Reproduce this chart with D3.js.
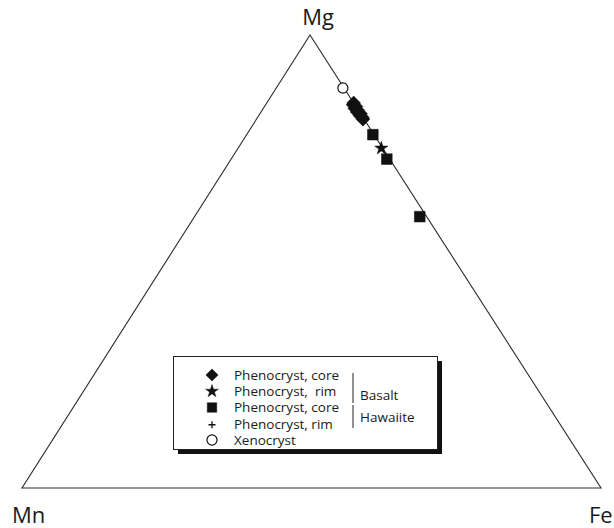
<!DOCTYPE html>
<html>
<head>
<meta charset="utf-8">
<script src="https://cdn.jsdelivr.net/npm/d3@7"></script>
<style>
  html, body { margin: 0; padding: 0; background: #fff; }
  svg { display: block; }
  text { font-family: "Open Sans", "Noto Sans", sans-serif; fill: #1a1a1a; }
</style>
</head>
<body>
<div id="chart"></div>
<script>
// Ternary vertex labels
const vertexLabels = ["Mg", "Mn", "Fe"];

// Olivine compositions, mol% Mg and Mn (Fe = remainder)
const basaltCoreMg = [85.0, 84.6, 84.2, 83.8, 83.4, 83.0, 82.6, 82.2, 81.8, 81.4];
const basaltCoreMn = [0.0, 0.3, 0.0, 0.4, 0.1, 0.4, 0.0, 0.3, 0.1, 0.2];
const basaltRimMg = [75.0];
const basaltRimMn = [0.25];
const hawaiiteCoreMg = [78.0, 72.6, 59.9];
const hawaiiteCoreMn = [0.2, 0.5, 1.2];
const hawaiiteRimMg = [83.6];
const hawaiiteRimMn = [0.3];
const xenocrystMg = [88.3];
const xenocrystMn = [0.2];

// Legend entries
const legendLabels = ["Phenocryst, core", "Phenocryst,  rim", "Phenocryst, core", "Phenocryst, rim", "Xenocryst"];
const legendGroups = ["Basalt", "Hawaiite"];

const W = 614, H = 528;
const svg = d3.select("#chart").append("svg").attr("width", W).attr("height", H);

// Triangle corners in pixel space
const apex = { x: 310, y: 35 };   // Mg
const left = { x: 22, y: 488 };   // Mn
const right = { x: 601, y: 488 }; // Fe

// Mg fraction moves a point vertically; the Fe:Mn ratio places it along the base
const yMg = d3.scaleLinear().domain([0, 100]).range([left.y, apex.y]);
const baseX = d3.scaleLinear().domain([0, 1]).range([left.x, right.x]);
function project(mg, mn) {
  const fe = 100 - mg - mn;
  const t = mg / 100;
  const share = (fe + mn) > 0 ? fe / (fe + mn) : 0.5;
  const bx = baseX(share);
  return [bx + (apex.x - bx) * t, yMg(mg)];
}

// Triangle outline
svg.append("path")
  .attr("d", d3.line()([[apex.x, apex.y], [left.x, left.y], [right.x, right.y]]) + "Z")
  .attr("fill", "none").attr("stroke", "#2a2a2a").attr("stroke-width", 1.1);

// Vertex labels
svg.append("text").attr("x", 318).attr("y", 25).attr("text-anchor", "middle")
  .attr("font-size", 22).text(vertexLabels[0]);
svg.append("text").attr("x", 12).attr("y", 523).attr("font-size", 22).text(vertexLabels[1]);
svg.append("text").attr("x", 589).attr("y", 523).attr("font-size", 22).text(vertexLabels[2]);

// Marker shapes; the diamond is a square turned by 45 degrees
const markers = {
  diamond: { gen: d3.symbol().type(d3.symbolSquare).size(95), rot: 45, fill: true },
  star: { gen: d3.symbol().type(d3.symbolStar).size(55), rot: 0, fill: true },
  square: { gen: d3.symbol().type(d3.symbolSquare).size(115), rot: 0, fill: true },
  cross: { gen: d3.symbol().type(d3.symbolCross).size(40), rot: 0, fill: true },
  circle: { gen: d3.symbol().type(d3.symbolCircle).size(80), rot: 0, fill: false }
};

function plot(mgs, mns, m) {
  svg.append("g").selectAll("path").data(d3.zip(mgs, mns)).join("path")
    .attr("transform", d => { const p = project(d[0], d[1]); return `translate(${p[0]},${p[1]}) rotate(${m.rot})`; })
    .attr("d", m.gen)
    .attr("fill", m.fill ? "#111" : "#fff")
    .attr("stroke", "#111")
    .attr("stroke-width", m.fill ? 0.5 : 1.2);
}

plot(hawaiiteRimMg, hawaiiteRimMn, markers.cross);
plot(basaltCoreMg, basaltCoreMn, markers.diamond);
plot(hawaiiteCoreMg, hawaiiteCoreMn, markers.square);
plot(basaltRimMg, basaltRimMn, markers.star);
plot(xenocrystMg, xenocrystMn, markers.circle);

// Legend box with drop shadow
const lg = svg.append("g");
lg.append("rect").attr("x", 178).attr("y", 361).attr("width", 264).attr("height", 93).attr("fill", "#111");
lg.append("rect").attr("x", 173.5).attr("y", 356.5).attr("width", 264).attr("height", 93)
  .attr("fill", "#fff").attr("stroke", "#222").attr("stroke-width", 1);

const rowY = d3.scaleLinear().domain([0, 4]).range([375, 440]);
const legendMarkers = [
  { gen: d3.symbol().type(d3.symbolSquare).size(75), rot: 45, fill: true },
  { gen: d3.symbol().type(d3.symbolStar).size(50), rot: 0, fill: true },
  { gen: d3.symbol().type(d3.symbolSquare).size(90), rot: 0, fill: true },
  { gen: d3.symbol().type(d3.symbolCross).size(28), rot: 0, fill: true, thin: true },
  { gen: d3.symbol().type(d3.symbolCircle).size(80), rot: 0, fill: false }
];
legendLabels.forEach((lab, i) => {
  const m = legendMarkers[i];
  if (m.thin) {
    // thin plus sign
    lg.append("path").attr("transform", `translate(212,${rowY(i) + 1})`)
      .attr("d", "M-3.5,0H3.5M0,-3.5V3.5")
      .attr("stroke", "#111").attr("stroke-width", 1.3).attr("fill", "none");
  } else {
    lg.append("path").attr("transform", `translate(212,${rowY(i)}) rotate(${m.rot})`)
      .attr("d", m.gen)
      .attr("fill", m.fill ? "#111" : "#fff")
      .attr("stroke", "#111").attr("stroke-width", m.fill ? 0.5 : 1.2);
  }
  lg.append("text").attr("x", 234).attr("y", rowY(i)).attr("dy", "0.36em")
    .attr("font-size", 13.5).attr("xml:space", "preserve").style("white-space", "pre").text(lab);
});

// Group brackets
lg.append("line").attr("x1", 353).attr("x2", 353).attr("y1", 373).attr("y2", 403)
  .attr("stroke", "#222").attr("stroke-width", 1);
lg.append("text").attr("x", 360).attr("y", 395).attr("dy", "0.36em").attr("font-size", 13.5).text(legendGroups[0]);
lg.append("line").attr("x1", 353).attr("x2", 353).attr("y1", 405).attr("y2", 428)
  .attr("stroke", "#222").attr("stroke-width", 1);
lg.append("text").attr("x", 360).attr("y", 417).attr("dy", "0.36em").attr("font-size", 13.5).text(legendGroups[1]);
</script>
</body>
</html>
